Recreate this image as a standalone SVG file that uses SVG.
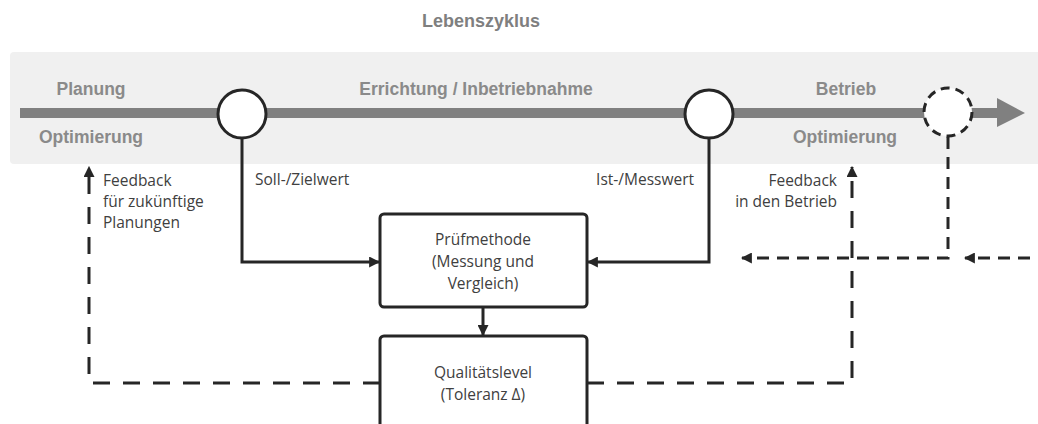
<svg xmlns="http://www.w3.org/2000/svg" width="1038" height="424" viewBox="0 0 1038 424">
  <style>
    .band { font-family: "Liberation Sans", Arial, sans-serif; font-weight: bold; font-size: 17.5px; fill: #8a8a8a; }
    .lbl { font-family: "Open Sans", "Liberation Sans", sans-serif; font-size: 15.5px; fill: #404040; }
    .node { fill: #ffffff; stroke: #262626; stroke-width: 3; }
    .solid { fill: none; stroke: #262626; stroke-width: 3; }
    .dash { fill: none; stroke: #262626; stroke-width: 3; stroke-dasharray: 17 13; }
    .dash2 { fill: none; stroke: #262626; stroke-width: 3; stroke-dasharray: 12 8; }
  </style>
  <defs>
    <marker id="ah" viewBox="0 0 10 10" refX="9" refY="5" markerWidth="11" markerHeight="11" markerUnits="userSpaceOnUse" orient="auto">
      <path d="M0,0 L10,5 L0,10 Z" fill="#262626"/>
    </marker>
  </defs>

  <text x="481" y="27" text-anchor="middle" class="band" style="font-size:18px;fill:#7f7f7f">Lebenszyklus</text>

  <g id="timeline">
    <rect x="10" y="52" width="1040" height="112" rx="4" fill="#f0f0f0"/>
    <rect x="20" y="108" width="978" height="10" fill="#808080"/>
    <path d="M997,98 L1025,113 L997,127 Z" fill="#808080"/>
    <text x="91" y="95" text-anchor="middle" class="band">Planung</text>
    <text x="91" y="143" text-anchor="middle" class="band">Optimierung</text>
    <text x="476" y="95" text-anchor="middle" class="band">Errichtung / Inbetriebnahme</text>
    <text x="846" y="95" text-anchor="middle" class="band">Betrieb</text>
    <text x="845" y="143" text-anchor="middle" class="band">Optimierung</text>
  </g>

  <g id="connectors">
    <path class="solid" d="M242,138 V262 H379" marker-end="url(#ah)"/>
    <path class="solid" d="M709,138 V262 H588" marker-end="url(#ah)"/>
    <path class="solid" d="M483,307 V335" marker-end="url(#ah)"/>
    <path class="dash" d="M380,383 H89 V167" marker-end="url(#ah)"/>
    <path class="dash" d="M587,383 H852 V167" marker-end="url(#ah)"/>
    <path class="dash2" d="M948,137 V258 H742" marker-end="url(#ah)"/>
    <path class="dash2" d="M1030,258 H965" marker-end="url(#ah)"/>
  </g>

  <g id="soll">
    <circle cx="242" cy="114" r="24" class="node"/>
    <text x="255" y="185" class="lbl">Soll-/Zielwert</text>
  </g>
  <g id="ist">
    <circle cx="709" cy="114" r="24" class="node"/>
    <text x="694" y="185" text-anchor="end" class="lbl">Ist-/Messwert</text>
  </g>
  <g id="future">
    <circle cx="948" cy="112" r="24" class="node" stroke-dasharray="9 6"/>
  </g>

  <g id="pruefmethode">
    <rect x="380" y="214" width="207" height="93" rx="4" class="node"/>
    <text x="483" y="245" text-anchor="middle" class="lbl">Prüfmethode</text>
    <text x="483" y="267" text-anchor="middle" class="lbl">(Messung und</text>
    <text x="483" y="289" text-anchor="middle" class="lbl">Vergleich)</text>
  </g>

  <g id="qualitaetslevel">
    <rect x="380" y="336" width="207" height="120" rx="4" class="node"/>
    <text x="483" y="378" text-anchor="middle" class="lbl">Qualitätslevel</text>
    <text x="483" y="400" text-anchor="middle" class="lbl">(Toleranz Δ)</text>
  </g>

  <g id="feedback-planung">
    <text x="103" y="186" class="lbl">Feedback</text>
    <text x="103" y="207" class="lbl">für zukünftige</text>
    <text x="103" y="228" class="lbl">Planungen</text>
  </g>
  <g id="feedback-betrieb">
    <text x="837" y="186" text-anchor="end" class="lbl">Feedback</text>
    <text x="837" y="207" text-anchor="end" class="lbl">in den Betrieb</text>
  </g>
</svg>
